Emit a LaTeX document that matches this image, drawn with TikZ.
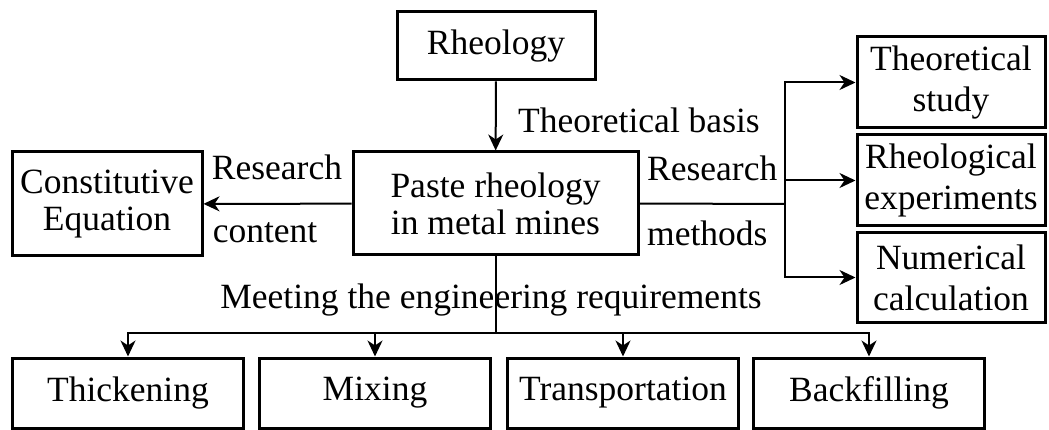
\documentclass[tikz,border=0pt]{standalone}
\usepackage{fontspec}
\setmainfont{Liberation Serif}
\usetikzlibrary{arrows.meta}

\begin{document}
\begin{tikzpicture}[x=1pt,y=-1pt,
		font=\fontsize{35.5}{37}\selectfont,
		box/.style={draw,line width=3pt,inner sep=0pt,align=center},
		side/.style={box,minimum width=188pt,font=\fontsize{35.5}{41}\selectfont},
		low/.style={box,minimum width=231pt,minimum height=70pt},
		link/.style={line width=2pt,-{Stealth[length=16pt,width=15pt,inset=5pt]}},
		line/.style={line width=2pt},
		tag/.style={inner sep=0pt}]
	\useasboundingbox (0,0) rectangle (1049,430);
	\node[box,minimum width=198pt,minimum height=68pt] (rh) at (496,46) {Rheology};
	\node[box,minimum width=285pt,minimum height=103pt] (paste) at (495.5,203.5) {Paste rheology\\in metal mines};
	\node[box,minimum width=190pt,minimum height=104pt] (ce) at (107,204) {Constitutive\\Equation};
	\node[side,minimum height=91pt] (ts) at (951,82.5) {Theoretical\\study};
	\node[side,minimum height=91pt] (re) at (951,180.5) {Rheological\\experiments};
	\node[side,minimum height=89pt] (nc) at (951,277.5) {Numerical\\calculation};
	\node[low] (th) at (128,393) {Thickening};
	\node[low] (mx) at (375,393) {Mixing};
	\node[low] (tr) at (623,393) {Transportation};
	\node[low] (bf) at (869,393) {Backfilling};
	\coordinate (sp) at (785,204);
	\coordinate (br) at (495.5,333);

	\draw[link] (rh) -- (paste);
	\draw[link] (paste) -- (ce);
	\draw[line] (paste.east) -- (sp);
	\draw[link] (sp) |- (ts.west);
	\draw[link] (sp) -- (re.west -| sp) -- (re.west);
	\draw[link] (sp) |- (nc.west);
	\draw[line] (paste.south) -- (br);
	\draw[link] (br) -| (th.north);
	\draw[link] (br) -| (mx.north);
	\draw[link] (br) -| (tr.north);
	\draw[link] (br) -| (bf.north);

	\node[tag,anchor=west] (tb) at (518,120) {Theoretical basis};
	\node[tag] (rl) at (277,167) {Research};
	\node[tag] (cl) at (265,233) {content};
	\node[tag,anchor=west] (rr) at (647,168) {Research};
	\node[tag,anchor=west] (ml) at (647,233) {methods};
	\node[tag] (mt) at (491,300) {Meeting the engineering requirements};
\end{tikzpicture}
\end{document}
